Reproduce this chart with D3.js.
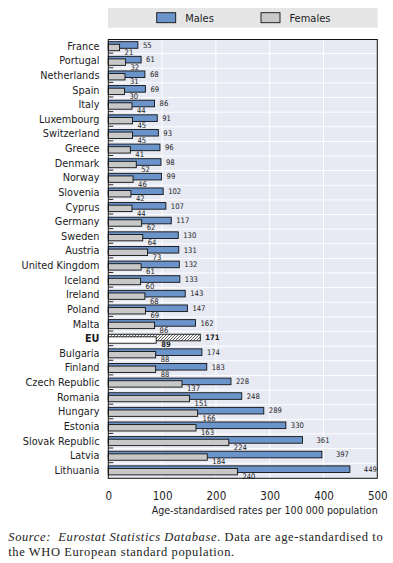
<!DOCTYPE html>
<html><head><meta charset="utf-8">
<script src="https://cdn.jsdelivr.net/npm/d3@7"></script>
<style>
html,body{margin:0;padding:0;background:#fff;}
svg{display:block;}
.nar{font-family:"Liberation Sans Narrow","DejaVu Sans Condensed","Arial Narrow",sans-serif;font-stretch:condensed;}
.ser{font-family:"Liberation Serif","DejaVu Serif",serif;}
</style></head>
<body>
<script>
const countries = ["France","Portugal","Netherlands","Spain","Italy","Luxembourg","Switzerland","Greece","Denmark","Norway","Slovenia","Cyprus","Germany","Sweden","Austria","United Kingdom","Iceland","Ireland","Poland","Malta","EU","Bulgaria","Finland","Czech Republic","Romania","Hungary","Estonia","Slovak Republic","Latvia","Lithuania"];
const males = [55,61,68,69,86,91,93,96,98,99,102,107,117,130,131,132,133,143,147,162,171,174,183,228,248,289,330,361,397,449];
const females = [21,32,31,30,44,45,45,41,52,46,42,44,62,64,73,61,60,68,69,86,89,88,88,137,151,166,163,224,184,240];
const xTicks = [0,100,200,300,400,500];
const seriesNames = ["Males","Females"];
const axisTitle = "Age-standardised rates per 100 000 population";
const highlight = "EU";

(function(){
const W = 393, H = 563;
const svg = d3.select("body").append("svg").attr("width", W).attr("height", H);
const defs = svg.append("defs");
const pat = defs.append("pattern").attr("id","hatch").attr("patternUnits","userSpaceOnUse")
  .attr("width",3).attr("height",3);
pat.append("rect").attr("width",3).attr("height",3).attr("fill","#f4f4f4");
pat.append("path").attr("d","M-1,1 L1,-1 M0,3 L3,0 M2,4 L4,2").attr("stroke","#555").attr("stroke-width",0.9);

const pL = 108.3, pR = 377.3, pT = 39.5, pB = 478.3;
const x = d3.scaleLinear().domain([0,500]).range([pL, pR]);
const y = d3.scaleBand().domain(countries).range([pT, pB]).padding(0);

const MALE = "#6b94ca", FEMALE = "#c8c8c8", TXT = "#1c1c24";

// legend
svg.append("rect").attr("x",108).attr("y",8).attr("width",269.7).attr("height",19.7).attr("fill","#e5e5e5");
const legX = [156.7, 261];
seriesNames.forEach((n,i)=>{
  svg.append("rect").attr("x",legX[i]).attr("y",12.7).attr("width",19).attr("height",10)
    .attr("fill", i===0?MALE:FEMALE).attr("stroke","#111").attr("stroke-width",0.9);
  svg.append("text").attr("class","nar").attr("x",legX[i]+28.5).attr("y",22)
    .attr("font-size",11).attr("fill",TXT).text(n);
});

// plot background
svg.append("rect").attr("x",pL).attr("y",pT).attr("width",pR-pL).attr("height",pB-pT).attr("fill","#e7e9f3");
svg.selectAll(".vg").data(xTicks.slice(1,-1)).enter().append("line")
  .attr("x1",d=>x(d)).attr("x2",d=>x(d)).attr("y1",pT).attr("y2",pB)
  .attr("stroke","#fff").attr("stroke-width",1);
svg.selectAll(".hg").data(countries.slice(1)).enter().append("line")
  .attr("x1",pL).attr("x2",pR).attr("y1",d=>y(d)-0.5).attr("y2",d=>y(d)-0.5)
  .attr("stroke","#fff").attr("stroke-width",1);

const rows = svg.selectAll(".row").data(countries).enter().append("g");
rows.append("rect").attr("x",x(0)).attr("y",d=>y(d)+2.2)
  .attr("width",(d,i)=>x(males[i])-x(0)).attr("height",6.6)
  .attr("fill",d=>d===highlight?"url(#hatch)":MALE).attr("stroke","#111").attr("stroke-width",0.9);
rows.append("rect").attr("x",x(0)).attr("y",d=>y(d)+4.8)
  .attr("width",(d,i)=>x(females[i])-x(0)).attr("height",6.4)
  .attr("fill",d=>d===highlight?"#ffffff":FEMALE).attr("stroke","#111").attr("stroke-width",0.9);
rows.append("text").attr("class","nar")
  .attr("x",(d,i)=>x(males[i]) + (males[i]>350?14:5)).attr("y",d=>y(d)+8.3)
  .attr("font-size",7.6).attr("fill",TXT)
  .attr("font-weight",d=>d===highlight?"bold":"normal")
  .text((d,i)=>males[i]);

svg.selectAll(".lt").data(countries.slice(1)).enter().append("line")
  .attr("x1",pL).attr("x2",pL+5).attr("y1",d=>y(d)-1).attr("y2",d=>y(d)-1)
  .attr("stroke","#111").attr("stroke-width",0.9);

rows.append("text").attr("class","nar")
  .attr("x",(d,i)=>x(females[i])+5).attr("y",d=>y(d)+15.4)
  .attr("font-size",7.6).attr("fill",TXT)
  .attr("font-weight",d=>d===highlight?"bold":"normal")
  .text((d,i)=>females[i]);

svg.append("rect").attr("x",pL).attr("y",pT).attr("width",pR-pL).attr("height",pB-pT)
  .attr("fill","none").attr("stroke","#111").attr("stroke-width",1);

svg.selectAll(".cl").data(countries).enter().append("text").attr("class","nar")
  .attr("x",99.5).attr("y",d=>y(d)+10.2).attr("text-anchor","end")
  .attr("font-size",10.8).attr("fill",TXT)
  .attr("font-weight",d=>d===highlight?"bold":"normal")
  .text(d=>d);

const ax = svg.append("g").attr("transform",`translate(0,${pB})`)
  .call(d3.axisBottom(x).tickValues(xTicks).tickSize(0).tickPadding(14).tickFormat(d3.format("d")));
ax.select(".domain").remove();
ax.attr("font-family",null).attr("font-size",null);
ax.selectAll("text").attr("class","nar").attr("font-size",11.5).attr("fill",TXT);

svg.append("text").attr("class","nar").attr("x",377.7).attr("y",514).attr("text-anchor","end")
  .attr("font-size",10.6).attr("fill",TXT).text(axisTitle);

const s1 = svg.append("text").attr("class","ser").attr("x",8.3).attr("y",541).attr("font-size",12.5)
  .attr("letter-spacing",0.6).attr("fill","#222");
s1.append("tspan").attr("font-style","italic").text("Source:");
s1.append("tspan").attr("font-style","italic").text("\u00a0 Eurostat Statistics Database");
s1.append("tspan").text(". Data are age-standardised to");
svg.append("text").attr("class","ser").attr("x",8.3).attr("y",555.5).attr("font-size",12.5)
  .attr("letter-spacing",0.6).attr("fill","#222")
  .text("the WHO European standard population.");
})();
</script>
</body></html>
